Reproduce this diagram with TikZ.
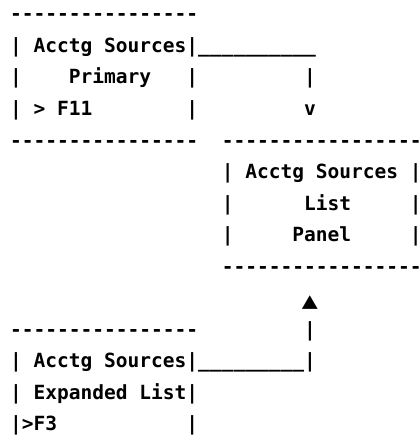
\documentclass[tikz,border=0pt]{standalone}
\usepackage{fontspec}
\setmonofont{DejaVu Sans Mono}
\usepackage{tikz}
\usetikzlibrary{positioning}
\newcommand{\Afont}{\ttfamily\bfseries\fontsize{19.53pt}{31.5pt}\selectfont}
\newcommand{\Acw}{11.76pt}
\newcommand{\Aup}{\scalebox{1.36}[1.17]{▲}}
\tikzstyle{Aline}=[font=\Afont,inner sep=0,outer sep=0,text height=15pt,text depth=5pt]
\tikzstyle{Abox}=[Aline]
\tikzstyle{Alink}=[Aline]
\tikzstyle{Ahead}=[Alink,yshift=-4pt]

\begin{document}
\begin{tikzpicture}[node distance=31.5pt]
\path[use as bounding box] (0,0) rectangle (418pt,-441pt);

\node[Abox,anchor=base west] (p0) at (10.1pt,-21pt) {----------------};
\node[Abox,below of=p0] (p1) {|~Acctg~Sources|};
\node[Abox,below of=p1] (p2) {|~~~~Primary~~~|};
\node[Abox,below of=p2] (p3) {|~>~F11~~~~~~~~|};
\node[Abox,below of=p3] (p4) {----------------};

\node[Abox,right=2*\Acw of p4] (l0) {-----------------};
\node[Abox,below of=l0] (l1) {|~Acctg~Sources~|};
\node[Abox,below of=l1] (l2) {|~~~~~~List~~~~~|};
\node[Abox,below of=l2] (l3) {|~~~~~Panel~~~~~|};
\node[Abox,below of=l3] (l4) {-----------------};

\node[Abox,below of=p4,node distance=189pt] (e0) {----------------};
\node[Abox,below of=e0] (e1) {|~Acctg~Sources|};
\node[Abox,below of=e1] (e2) {|~Expanded~List|};
\node[Abox,below of=e2] (e3) {|>F3~~~~~~~~~~~|};

\node[Alink,right=0pt of p1] (u1) {\_\_\_\_\_\_\_\_\_\_};
\node[Alink,right=9*\Acw of p2] (a1) {|};
\node[Alink,below of=a1] (a2) {v};

\node[Alink,right=0pt of e1] (u2) {\_\_\_\_\_\_\_\_\_|};
\node[Alink,right=9*\Acw of e0] (b1) {|};
\node[Ahead,above of=b1] (b2) {\Aup};
\end{tikzpicture}
\end{document}
